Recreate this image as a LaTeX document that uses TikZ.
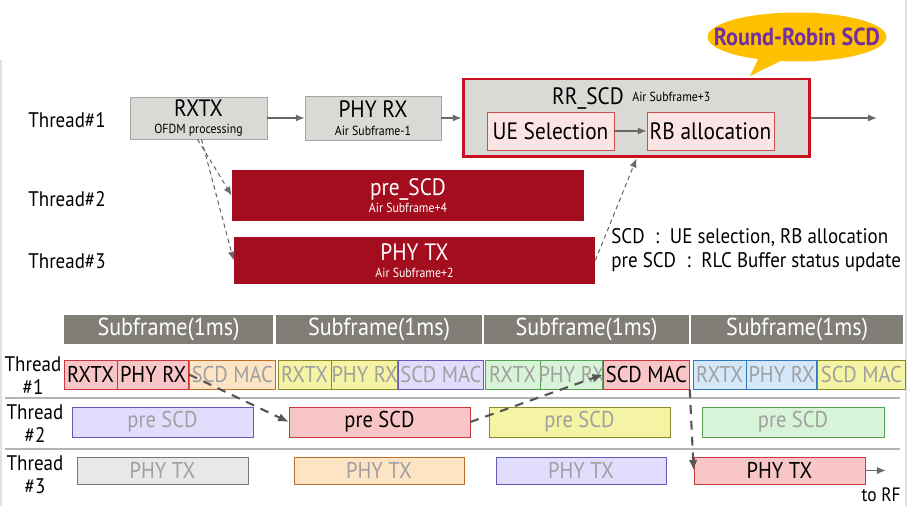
\documentclass[tikz,border=0pt]{standalone}
\usepackage{fontspec}
\setmainfont{PT Sans}[FakeStretch=0.9]
\usepackage{xcolor}
\usepackage{tikz}
\usetikzlibrary{arrows.meta,positioning,shapes.callouts}
\definecolor{scdred}{RGB}{163,13,30}
\definecolor{boxgray}{RGB}{217,217,214}
\definecolor{boxline}{RGB}{165,165,165}
\definecolor{headgray}{RGB}{128,126,118}
\definecolor{arrgray}{RGB}{105,105,105}
\definecolor{flowgray}{RGB}{85,85,85}
\definecolor{fadetext}{RGB}{160,160,160}
\definecolor{rrred}{RGB}{200,16,30}
\definecolor{uefill}{RGB}{252,228,228}
\definecolor{uedraw}{RGB}{205,80,80}
\definecolor{callgold}{RGB}{255,192,0}
\definecolor{callpurple}{RGB}{112,48,160}
\definecolor{sepgray}{RGB}{180,180,180}
\definecolor{framegray}{RGB}{225,225,225}
\definecolor{pkF}{RGB}{248,198,198}\definecolor{pkD}{RGB}{205,55,60}
\definecolor{orF}{RGB}{252,228,196}\definecolor{orD}{RGB}{190,110,40}
\definecolor{ylF}{RGB}{244,244,164}\definecolor{ylD}{RGB}{140,135,40}
\definecolor{lvF}{RGB}{224,222,252}\definecolor{lvD}{RGB}{100,90,185}
\definecolor{gnF}{RGB}{216,244,216}\definecolor{gnD}{RGB}{85,160,80}
\definecolor{blF}{RGB}{212,232,250}\definecolor{blD}{RGB}{50,120,190}
\definecolor{gyF}{RGB}{232,232,232}\definecolor{gyD}{RGB}{120,120,120}
\newcommand{\bigtxt}{\fontsize{13.5}{15}\selectfont}
\newcommand{\smalltxt}{\fontsize{7.5}{10}\selectfont}
\newcommand{\celltxt}{\fontsize{13}{14}\selectfont}
\newcommand{\fitin}[1]{\makebox[0pt]{#1}}

\begin{document}
\begin{tikzpicture}[x=0.02cm,y=-0.02cm,
    >=Latex,
    thr/.style={font=\fontsize{12}{13}\selectfont, anchor=west, inner sep=0pt},
    thrtwo/.style={font=\fontsize{12}{13}\selectfont, align=center, inner sep=0pt},
    gbox/.style={draw=boxline, fill=boxgray, align=center, inner sep=0pt, font=\smalltxt},
    redbar/.style={fill=scdred, text=white, align=center, inner sep=0pt, font=\smalltxt},
    selbox/.style={draw=uedraw, fill=uefill, inner sep=0pt, minimum width=2.54cm, minimum height=0.76cm, font=\bigtxt},
    head/.style={fill=headgray, text=white, inner sep=0pt, minimum height=0.58cm, font=\fontsize{14}{15}\selectfont},
    cell/.style={inner sep=0pt, text=fadetext, font=\celltxt},
    pal/.style={fill=#1F, draw=#1D},
    hot/.style={text=black},
    solidarr/.style={->, draw=arrgray, line width=0.8pt, -{Latex[length=5pt,width=4pt]}},
    hint/.style={draw=arrgray, line width=0.6pt, dash pattern=on 2.5pt off 2pt, -{Latex[length=5pt,width=4pt]}},
    flow/.style={draw=flowgray, line width=1.2pt, dash pattern=on 5pt off 4pt, -{Latex[length=6pt,width=5pt]}},
    sepline/.style={draw=sepgray, line width=1.1pt}
]
\useasboundingbox (0,0) rectangle (907,506);
\draw[framegray, line width=0.6pt] (1,60) -- (1,506);
\draw[framegray, line width=0.6pt] (906,0) -- (906,506);

\node[thr] (th1) at (28,120) {Thread\#1};
\node[thr] (th2) at (28,199) {Thread\#2};
\node[thr] (th3) at (28,261) {Thread\#3};

\node[gbox, minimum width=2.74cm, minimum height=0.84cm] (rxtx) at (198.5,118) {{\bigtxt RXTX}\\OFDM processing};
\node[gbox, minimum width=2.72cm, minimum height=0.88cm] (phyrx) at (373,118) {{\bigtxt PHY RX}\\Air Subframe-1};
\node[draw=rrred, line width=1.7pt, fill=boxgray, minimum width=6.94cm, minimum height=1.56cm] (rrscd) at (636.5,118) {};
\node[font=\bigtxt, inner sep=0pt] (rrname) at (588,98) {RR\_SCD};
\node[font=\smalltxt, anchor=west, inner sep=0pt] (rrair) at (632,97) {Air Subframe+3};
\node[selbox] (uesel) at (550.5,131) {UE Selection};
\node[selbox] (rballoc) at (710.5,131) {RB allocation};
\coordinate (rrout) at (877,118);

\node[ellipse callout, fill=callgold, callout absolute pointer={(750,76)}, minimum width=3.58cm, minimum height=0.98cm, inner sep=0pt, text=callpurple, font=\fontsize{14}{15}\selectfont\bfseries] (rrcall) at (797,37) {\fitin{Round-Robin SCD}};

\node[redbar, minimum width=7.04cm, minimum height=1.02cm] (presc) at (408,195.5) {{\bigtxt pre\_SCD}\\Air Subframe+4};
\node[redbar, minimum width=7.22cm, minimum height=0.94cm] (phytx) at (414.5,260.5) {{\bigtxt PHY TX}\\Air Subframe+2};
\node[align=left, anchor=west, inner sep=0pt, font=\fontsize{12}{13.6}\selectfont] (legend) at (611,250) {SCD\enspace:\enspace UE selection, RB allocation\\pre SCD\enspace:\enspace RLC Buffer status update};

\draw[solidarr] (rxtx) -- (phyrx);
\draw[solidarr] (phyrx) -- (rrscd);
\draw[solidarr] (uesel) -- (rballoc);
\draw[solidarr] (rrscd) -- (rrout);
\draw[hint] ([xshift=-0.02cm]rxtx.south) -- (presc.west);
\draw[hint] ([xshift=0.06cm]rxtx.south) -- (phytx.west);
\draw[hint] (phytx.east) -- (rrscd.south);

\node[head, minimum width=4.18cm] (sf1) at (168.5,329.5) {Subframe(1ms)};
\node[head, minimum width=4.12cm] (sf2) at (379,329.5) {Subframe(1ms)};
\node[head, minimum width=4.10cm] (sf3) at (586.5,329.5) {Subframe(1ms)};
\node[head, minimum width=4.24cm] (sf4) at (797,329.5) {Subframe(1ms)};

\node[thrtwo] (rt1) at (33,376) {Thread\\\#1};
\node[thrtwo] (rt2) at (35,424) {Thread\\\#2};
\node[thrtwo] (rt3) at (35,475) {Thread\\\#3};

\begin{scope}[every node/.append style={minimum height=0.58cm}]
\node[cell, pal=pk, hot, minimum width=1.06cm] (r1a) at (90.5,374.5) {\fitin{RXTX}};
\node[cell, pal=pk, hot, minimum width=1.42cm, right=0pt of r1a] (r1b) {\fitin{PHY RX}};
\node[cell, pal=or, minimum width=1.72cm, right=0pt of r1b] (r1c) {\fitin{SCD MAC}};
\node[cell, pal=yl, minimum width=1.06cm] (r2a) at (304.5,374.5) {\fitin{RXTX}};
\node[cell, pal=yl, minimum width=1.32cm, right=0pt of r2a] (r2b) {\fitin{PHY RX}};
\node[cell, pal=lv, minimum width=1.70cm, right=0pt of r2b] (r2c) {\fitin{SCD MAC}};
\node[cell, pal=gn, minimum width=1.10cm] (r3a) at (512.5,374.5) {\fitin{RXTX}};
\node[cell, pal=gn, minimum width=1.24cm, right=0pt of r3a] (r3b) {\fitin{PHY RX}};
\node[cell, pal=pk, hot, minimum width=1.72cm, right=0pt of r3b] (r3c) {\fitin{SCD MAC}};
\node[cell, pal=bl, minimum width=1.06cm] (r4a) at (719.5,374.5) {\fitin{RXTX}};
\node[cell, pal=bl, minimum width=1.40cm, right=0pt of r4a] (r4b) {\fitin{PHY RX}};
\node[cell, pal=yl, minimum width=1.76cm, right=0pt of r4b] (r4c) {\fitin{SCD MAC}};
\end{scope}

\draw[sepline] (5,398) -- (900,398);
\draw[sepline] (5,449) -- (900,449);

\begin{scope}[every node/.append style={minimum height=0.60cm}]
\node[cell, pal=lv, minimum width=3.62cm] (p1) at (162.5,422) {pre SCD};
\node[cell, pal=pk, hot, minimum width=3.62cm] (p2) at (379.5,422) {pre SCD};
\node[cell, pal=yl, minimum width=3.62cm] (p3) at (579.5,422) {pre SCD};
\node[cell, pal=gn, minimum width=3.64cm] (p4) at (793,422) {pre SCD};
\end{scope}

\begin{scope}[every node/.append style={minimum height=0.54cm}]
\node[cell, pal=gy, minimum width=3.42cm] (t1) at (162.5,470.5) {PHY TX};
\node[cell, pal=or, minimum width=3.40cm] (t2) at (379,470.5) {PHY TX};
\node[cell, pal=lv, minimum width=3.40cm] (t3) at (581,470.5) {PHY TX};
\node[cell, pal=pk, hot, minimum width=3.42cm] (t4) at (779.5,470.5) {PHY TX};
\end{scope}
\coordinate (rf) at (886,470.5);
\node[anchor=east, inner sep=0pt, font=\fontsize{11}{12}\selectfont] (torf) at (901,495) {to RF};

\draw[flow] (r1b.east) -- (p2.west);
\draw[flow] (p2.east) -- (r3c.west);
\draw[flow] (r3c.south east) -- (t4.west);
\draw[solidarr] (t4.east) -- (rf);
\end{tikzpicture}
\end{document}
